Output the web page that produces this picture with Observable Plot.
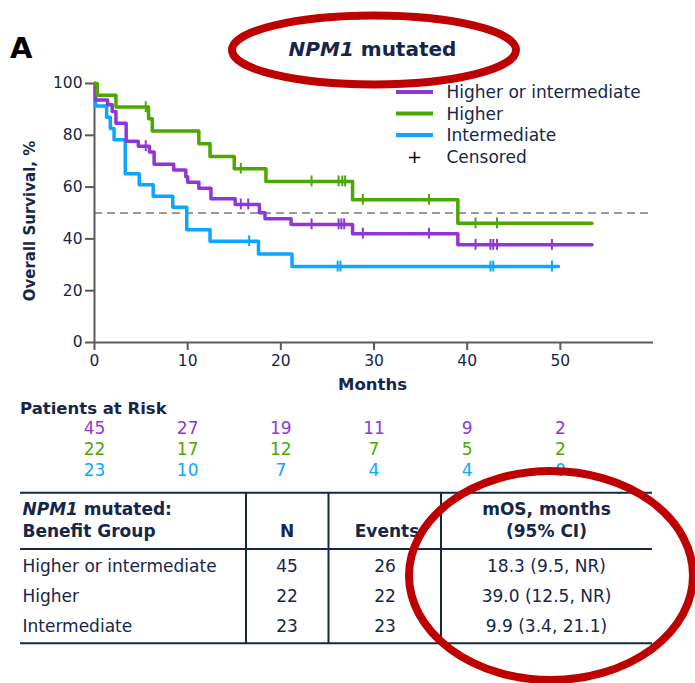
<!DOCTYPE html>
<html><head><meta charset="utf-8">
<script src="https://cdn.jsdelivr.net/npm/d3@7"></script>
<script src="https://cdn.jsdelivr.net/npm/@observablehq/plot@0.6"></script>
<style>
body{margin:0;background:#fff;}
#wrap{position:relative;width:695px;height:683px;overflow:hidden;font-family:"DejaVu Sans",sans-serif;color:#16264a;background:#fff;}
#wrap > svg{position:absolute;left:0;}
</style></head><body><div id="wrap"></div>
<script>
// ---- data ----
const groups = ["Higher or intermediate", "Higher", "Intermediate"];
const groupColors = ["#9136d6", "#4ba800", "#0aa6ff"];

const purpleTimes = [0, 0.1, 1.4, 1.9, 2.3, 3.4, 4.7, 5.9, 6.4, 8.5, 9.8, 10.0, 11.2, 12.5, 15.1, 17.7, 18.3, 21.1, 27.7, 39.0, 53.4];
const purpleSurv  = [100, 93.6, 91.8, 89.2, 84.7, 77.7, 75.8, 73.6, 68.8, 66.6, 64.0, 61.9, 59.6, 55.5, 53.3, 50.1, 47.8, 45.6, 42.0, 37.7, 37.7];
const purpleCens  = [5.5, 15.7, 16.5, 23.3, 26.2, 26.5, 26.8, 28.8, 35.9, 40.9, 42.5, 42.8, 43.2, 49.1];

const greenTimes = [0, 0.3, 2.3, 5.8, 6.2, 11.2, 12.4, 15.0, 18.4, 27.7, 39.0, 53.4];
const greenSurv  = [100, 95.5, 90.9, 86.4, 81.7, 76.7, 71.8, 67.1, 62.2, 55.1, 46.0, 46.0];
const greenCens  = [5.5, 15.7, 23.3, 26.2, 26.6, 26.9, 28.8, 35.9, 40.9, 43.2];

const blueTimes = [0, 0.1, 1.3, 1.7, 2.1, 3.3, 4.8, 6.3, 8.4, 9.9, 12.4, 17.6, 21.2, 49.8];
const blueSurv  = [100, 91.3, 87.0, 82.6, 78.3, 65.2, 60.9, 56.5, 52.2, 43.5, 39.1, 34.2, 29.3, 29.3];
const blueCens  = [16.6, 26.1, 26.4, 42.5, 42.8, 49.1];

const xTicks = [0, 10, 20, 30, 40, 50];
const yTicks = [0, 20, 40, 60, 80, 100];

const riskTimes  = [0, 10, 20, 30, 40, 50];
const riskPurple = [45, 27, 19, 11, 9, 2];
const riskGreen  = [22, 17, 12, 7, 5, 2];
const riskBlue   = [23, 10, 7, 4, 4, 0];

const tableN      = [45, 22, 23];
const tableEvents = [26, 22, 23];
const tableMOS    = ["18.3 (9.5, NR)", "39.0 (12.5, NR)", "9.9 (3.4, 21.1)"];

// ---- build tables ----
const series = [
  {g: groups[0], t: purpleTimes, s: purpleSurv, c: purpleCens},
  {g: groups[1], t: greenTimes, s: greenSurv, c: greenCens},
  {g: groups[2], t: blueTimes, s: blueSurv, c: blueCens}
];
const curveData = [], censData = [];
for (const ser of series) {
  ser.t.forEach((t, i) => curveData.push({group: ser.g, t, s: ser.s[i]}));
  for (const ct of ser.c) {
    let v = ser.s[0];
    ser.t.forEach((t, i) => { if (t <= ct) v = ser.s[i]; });
    censData.push({group: ser.g, t: ct, s: v});
  }
}
const drawOrder = [groups[2], groups[0], groups[1]];
curveData.sort((a, b) => drawOrder.indexOf(a.group) - drawOrder.indexOf(b.group));

const riskRows = [riskPurple, riskGreen, riskBlue];
const riskData = [];
riskRows.forEach((row, gi) => row.forEach((n, i) => riskData.push({group: groups[gi], t: riskTimes[i], n})));

const navy = "#16264a", axisGray = "#5a5a5a";
const wrap = document.getElementById("wrap");

const main = Plot.plot({
  width: 695, height: 400,
  marginLeft: 94, marginRight: 42, marginTop: 83, marginBottom: 58,
  x: {domain: [0, 60]},
  y: {domain: [0, 100]},
  color: {domain: groups, range: groupColors},
  style: {fontFamily: "DejaVu Sans", fontSize: "15.5px", color: navy, background: "transparent", overflow: "visible"},
  marks: [
    Plot.ruleY([50], {stroke: "#7a7a7a", strokeWidth: 1.3, strokeDasharray: "8,5"}),
    Plot.axisX({ticks: xTicks, tickSize: 8, tickPadding: 4, stroke: axisGray, strokeWidth: 2, fill: navy, label: null}),
    Plot.axisY({ticks: yTicks, tickSize: 9, tickPadding: 3, stroke: axisGray, strokeWidth: 2, fill: navy, label: null}),
    Plot.ruleY([0], {stroke: axisGray, strokeWidth: 2}),
    Plot.ruleX([0], {stroke: axisGray, strokeWidth: 2}),
    Plot.line(curveData, {x: "t", y: "s", z: "group", stroke: "group", strokeWidth: 3.5, curve: "step-after"}),
    Plot.ruleX(censData, {x: "t", y1: d => d.s - 2.1, y2: d => d.s + 2.1, stroke: "group", strokeWidth: 2})
  ]
});
main.style.top = "0px";
wrap.appendChild(main);

const risk = Plot.plot({
  width: 695, height: 63,
  marginLeft: 94, marginRight: 42, marginTop: 0, marginBottom: 0,
  x: {domain: [0, 60], axis: null},
  y: {domain: groups, axis: null, padding: 0.5},
  color: {domain: groups, range: groupColors},
  style: {fontFamily: "DejaVu Sans", fontSize: "17px", background: "transparent", overflow: "visible"},
  marks: [
    Plot.text(riskData, {x: "t", y: "group", text: "n", fill: "group", fontSize: 17})
  ]
});
risk.style.top = "416.5px";
wrap.appendChild(risk);

// ---- overlay: labels, legend, table, annotations ----
const ov = d3.select(wrap).append("svg").attr("width", 695).attr("height", 683)
  .style("top", "0px").style("font-family", "DejaVu Sans").attr("fill", navy);

ov.append("text").attr("x", 10).attr("y", 57.5).attr("font-size", 29).attr("font-weight", "bold").attr("fill", "#000").text("A");
const title = ov.append("text").attr("x", 372.5).attr("y", 55.5).attr("text-anchor", "middle").attr("font-size", 20).attr("font-weight", "bold");
title.append("tspan").attr("font-style", "italic").text("NPM1");
title.append("tspan").text(" mutated");

ov.append("text").attr("transform", "translate(35,221) rotate(-90)").attr("text-anchor", "middle")
  .attr("font-size", 15).attr("font-weight", "bold").text("Overall Survival, %");
ov.append("text").attr("x", 372.5).attr("y", 390).attr("text-anchor", "middle").attr("font-size", 16.5).attr("font-weight", "bold").text("Months");

// legend
const legY = [92, 113.5, 135];
groups.forEach((g, i) => {
  ov.append("line").attr("x1", 396).attr("x2", 433).attr("y1", legY[i]).attr("y2", legY[i]).attr("stroke", groupColors[i]).attr("stroke-width", 4);
  ov.append("text").attr("x", 446.5).attr("y", legY[i] + 6.3).attr("font-size", 17).text(g);
});
ov.append("text").attr("x", 414.5).attr("y", 156.5 + 6.3).attr("text-anchor", "middle").attr("font-size", 18).attr("fill", "#000").text("+");
ov.append("text").attr("x", 446.5).attr("y", 156.5 + 6.3).attr("font-size", 17).text("Censored");

ov.append("text").attr("x", 20).attr("y", 414).attr("font-size", 16.5).attr("font-weight", "bold").text("Patients at Risk");

// table
const tl = navy;
const hl = (y) => ov.append("line").attr("x1", 20).attr("x2", 652).attr("y1", y).attr("y2", y).attr("stroke", tl).attr("stroke-width", 2);
hl(492.7); hl(549); hl(643.3);
[246, 328.5, 441].forEach(x => ov.append("line").attr("x1", x).attr("x2", x).attr("y1", 492.7).attr("y2", 643.3).attr("stroke", tl).attr("stroke-width", 2));
const h1 = ov.append("text").attr("x", 22.5).attr("y", 515).attr("font-size", 17).attr("font-weight", "bold");
h1.append("tspan").attr("font-style", "italic").text("NPM1");
h1.append("tspan").text(" mutated:");
ov.append("text").attr("x", 22.5).attr("y", 537).attr("font-size", 17).attr("font-weight", "bold").text("Benefit Group");
ov.append("text").attr("x", 287).attr("y", 537).attr("text-anchor", "middle").attr("font-size", 17).attr("font-weight", "bold").text("N");
ov.append("text").attr("x", 387).attr("y", 537).attr("text-anchor", "middle").attr("font-size", 17).attr("font-weight", "bold").text("Events");
ov.append("text").attr("x", 546.5).attr("y", 515).attr("text-anchor", "middle").attr("font-size", 17).attr("font-weight", "bold").text("mOS, months");
ov.append("text").attr("x", 546.5).attr("y", 537).attr("text-anchor", "middle").attr("font-size", 17).attr("font-weight", "bold").text("(95% CI)");
const rowY = [572, 602, 632];
groups.forEach((g, i) => {
  ov.append("text").attr("x", 22.5).attr("y", rowY[i]).attr("font-size", 17).text(g);
  ov.append("text").attr("x", 287).attr("y", rowY[i]).attr("text-anchor", "middle").attr("font-size", 17).text(tableN[i]);
  ov.append("text").attr("x", 385).attr("y", rowY[i]).attr("text-anchor", "middle").attr("font-size", 17).text(tableEvents[i]);
  ov.append("text").attr("x", 546.5).attr("y", rowY[i]).attr("text-anchor", "middle").attr("font-size", 17).text(tableMOS[i]);
});

// red annotation ellipses
ov.append("ellipse").attr("cx", 374).attr("cy", 50).attr("rx", 142).attr("ry", 34.5).attr("fill", "none").attr("stroke", "#bf0000").attr("stroke-width", 8);
ov.append("ellipse").attr("cx", 551).attr("cy", 575.5).attr("rx", 142).attr("ry", 104.5).attr("fill", "none").attr("stroke", "#bf0000").attr("stroke-width", 8);
</script></body></html>
